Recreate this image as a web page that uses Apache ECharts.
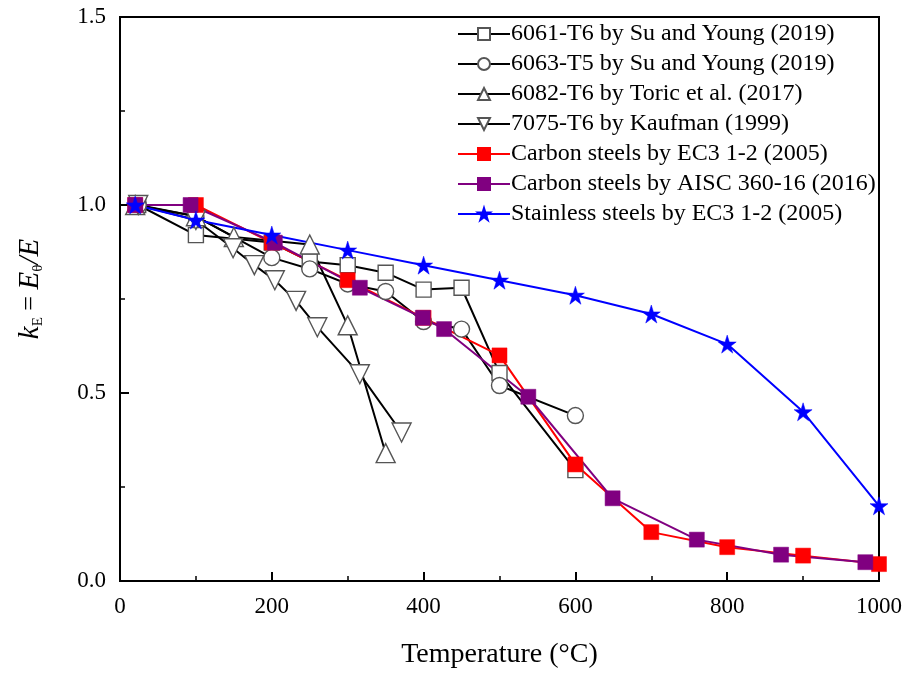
<!DOCTYPE html>
<html>
<head>
<meta charset="utf-8">
<script src="https://cdn.jsdelivr.net/npm/echarts@6/dist/echarts.min.js"></script>
<style>html,body{margin:0;padding:0;background:#fff}#c{width:914px;height:675px}</style>
</head>
<body>
<div id="c"></div>
<script>
// ---- data ----
const seriesNames = [
  '6061-T6 by Su and Young (2019)',
  '6063-T5 by Su and Young (2019)',
  '6082-T6 by Toric et al. (2017)',
  '7075-T6 by Kaufman (1999)',
  'Carbon steels by EC3 1-2 (2005)',
  'Carbon steels by AISC 360-16 (2016)',
  'Stainless steels by EC3 1-2 (2005)'
];
const temps6061 = [24, 100, 200, 250, 300, 350, 400, 450, 500, 600];
const kE6061    = [1.0, 0.92, 0.90, 0.85, 0.84, 0.82, 0.775, 0.78, 0.553, 0.295];
const temps6063 = [24, 100, 200, 250, 300, 350, 400, 450, 500, 600];
const kE6063    = [1.0, 0.97, 0.86, 0.83, 0.79, 0.77, 0.69, 0.67, 0.52, 0.44];
const temps6082 = [20, 100, 150, 250, 300, 350];
const kE6082    = [1.0, 0.97, 0.915, 0.895, 0.68, 0.34];
const temps7075 = [24, 100, 149, 177, 204, 232, 260, 316, 371];
const kE7075    = [1.0, 0.96, 0.885, 0.84, 0.80, 0.745, 0.675, 0.55, 0.395];
const tempsEC3  = [20, 100, 200, 300, 400, 500, 600, 700, 800, 900, 1000];
const kEcarbonEC3 = [1.0, 1.0, 0.9, 0.8, 0.7, 0.6, 0.31, 0.13, 0.09, 0.0675, 0.045];
const tempsAISC = [20, 93, 204, 316, 399, 427, 538, 649, 760, 871, 982];
const kEAISC    = [1.0, 1.0, 0.9, 0.78, 0.70, 0.67, 0.49, 0.22, 0.11, 0.07, 0.05];
const tempsSS   = [20, 100, 200, 300, 400, 500, 600, 700, 800, 900, 1000];
const kEstainless = [1.0, 0.96, 0.92, 0.88, 0.84, 0.80, 0.76, 0.71, 0.63, 0.45, 0.20];
const xTicks = [0, 200, 400, 600, 800, 1000];
const yTicks = [0.0, 0.5, 1.0, 1.5];

// ---- styles ----
const FONT = '"Liberation Serif", "Times New Roman", serif';
const STAR = 'path://M50,0 L61.17,34.63 L97.55,34.55 L68.07,55.87 L79.39,90.45 L50,69 L20.61,90.45 L31.93,55.87 L2.45,34.55 L38.83,34.63 Z';
const TRI_DOWN = 'path://M0,0 L100,0 L50,88 Z';
const TRI_UP = 'path://M50,0 L100,88 L0,88 Z';

function pairs(xs, ys) { return xs.map((x, i) => [x, ys[i]]); }

function hollow(name, xs, ys, symbol, size) {
  return {
    name: name, type: 'line', data: pairs(xs, ys),
    symbol: symbol, symbolSize: size, showAllSymbol: true,
    lineStyle: { color: '#000', width: 2 },
    itemStyle: { color: '#fff', borderColor: '#555', borderWidth: 1.4 },
    emphasis: { disabled: true }, animation: false
  };
}
function filled(name, xs, ys, symbol, size, color) {
  return {
    name: name, type: 'line', data: pairs(xs, ys),
    symbol: symbol, symbolSize: size, showAllSymbol: true,
    lineStyle: { color: color, width: 2 },
    itemStyle: { color: color, borderColor: color, borderWidth: 0.5 },
    emphasis: { disabled: true }, animation: false
  };
}

const chart = echarts.init(document.getElementById('c'), null, { renderer: 'canvas' });
chart.setOption({
  animation: false,
  backgroundColor: '#fff',
  grid: { left: 120, right: 35, top: 17, bottom: 94, show: true, borderColor: '#000', borderWidth: 2, backgroundColor: 'transparent' },
  legend: {
    orient: 'vertical', left: 452, top: 17, itemGap: 6,
    itemWidth: 52, itemHeight: 15,
    textStyle: { fontFamily: FONT, fontSize: 24, lineHeight: 24, color: '#000', padding: [0, 0, 0, -4] },
    data: seriesNames
  },
  xAxis: {
    type: 'value', min: 0, max: 1000, interval: 200,
    name: 'Temperature (°C)', nameLocation: 'middle', nameGap: 60,
    nameTextStyle: { fontFamily: FONT, fontSize: 28, color: '#000' },
    axisLine: { show: true, onZero: false, lineStyle: { color: '#000', width: 2 } },
    axisTick: { show: true, inside: true, length: 9, lineStyle: { color: '#000', width: 2 } },
    minorTick: { show: true, splitNumber: 2, length: 5, lineStyle: { color: '#000', width: 1.5 } },
    splitLine: { show: false },
    axisLabel: { fontFamily: FONT, fontSize: 23, color: '#000', margin: 14,
      formatter: v => xTicks.indexOf(v) >= 0 ? String(v) : '' }
  },
  yAxis: {
    type: 'value', min: 0, max: 1.5, interval: 0.5,
    name: '{k|k}{sub|E}{n| = }{k|E}{sub|θ}{k|/E}',
    nameLocation: 'middle', nameGap: 74, nameRotate: 90,
    nameTextStyle: {
      fontFamily: FONT, color: '#000', padding: [0, 0, 0, 20],
      rich: {
        k: { fontFamily: FONT, fontStyle: 'italic', fontSize: 29, lineHeight: 32, verticalAlign: 'middle' },
        n: { fontFamily: FONT, fontSize: 26, lineHeight: 32, verticalAlign: 'middle' },
        sub: { fontFamily: FONT, fontSize: 15, lineHeight: 14, verticalAlign: 'bottom' }
      }
    },
    axisLine: { show: true, onZero: false, lineStyle: { color: '#000', width: 2 } },
    axisTick: { show: true, inside: true, length: 9, lineStyle: { color: '#000', width: 2 } },
    minorTick: { show: true, splitNumber: 2, length: 5, lineStyle: { color: '#000', width: 1.5 } },
    splitLine: { show: false },
    axisLabel: { fontFamily: FONT, fontSize: 23, color: '#000', margin: 14,
      formatter: v => { const t = yTicks.find(y => Math.abs(y - v) < 1e-9); return t === undefined ? '' : t.toFixed(1); } }
  },
  series: [
    hollow(seriesNames[0], temps6061, kE6061, 'rect', 15),
    hollow(seriesNames[1], temps6063, kE6063, 'circle', 16),
    hollow(seriesNames[2], temps6082, kE6082, TRI_UP, 19),
    hollow(seriesNames[3], temps7075, kE7075, TRI_DOWN, 19),
    filled(seriesNames[4], tempsEC3, kEcarbonEC3, 'rect', 15, '#ff0000'),
    filled(seriesNames[5], tempsAISC, kEAISC, 'rect', 15, '#800080'),
    filled(seriesNames[6], tempsSS, kEstainless, STAR, 18, '#0000ff')
  ]
});
</script>
</body>
</html>
